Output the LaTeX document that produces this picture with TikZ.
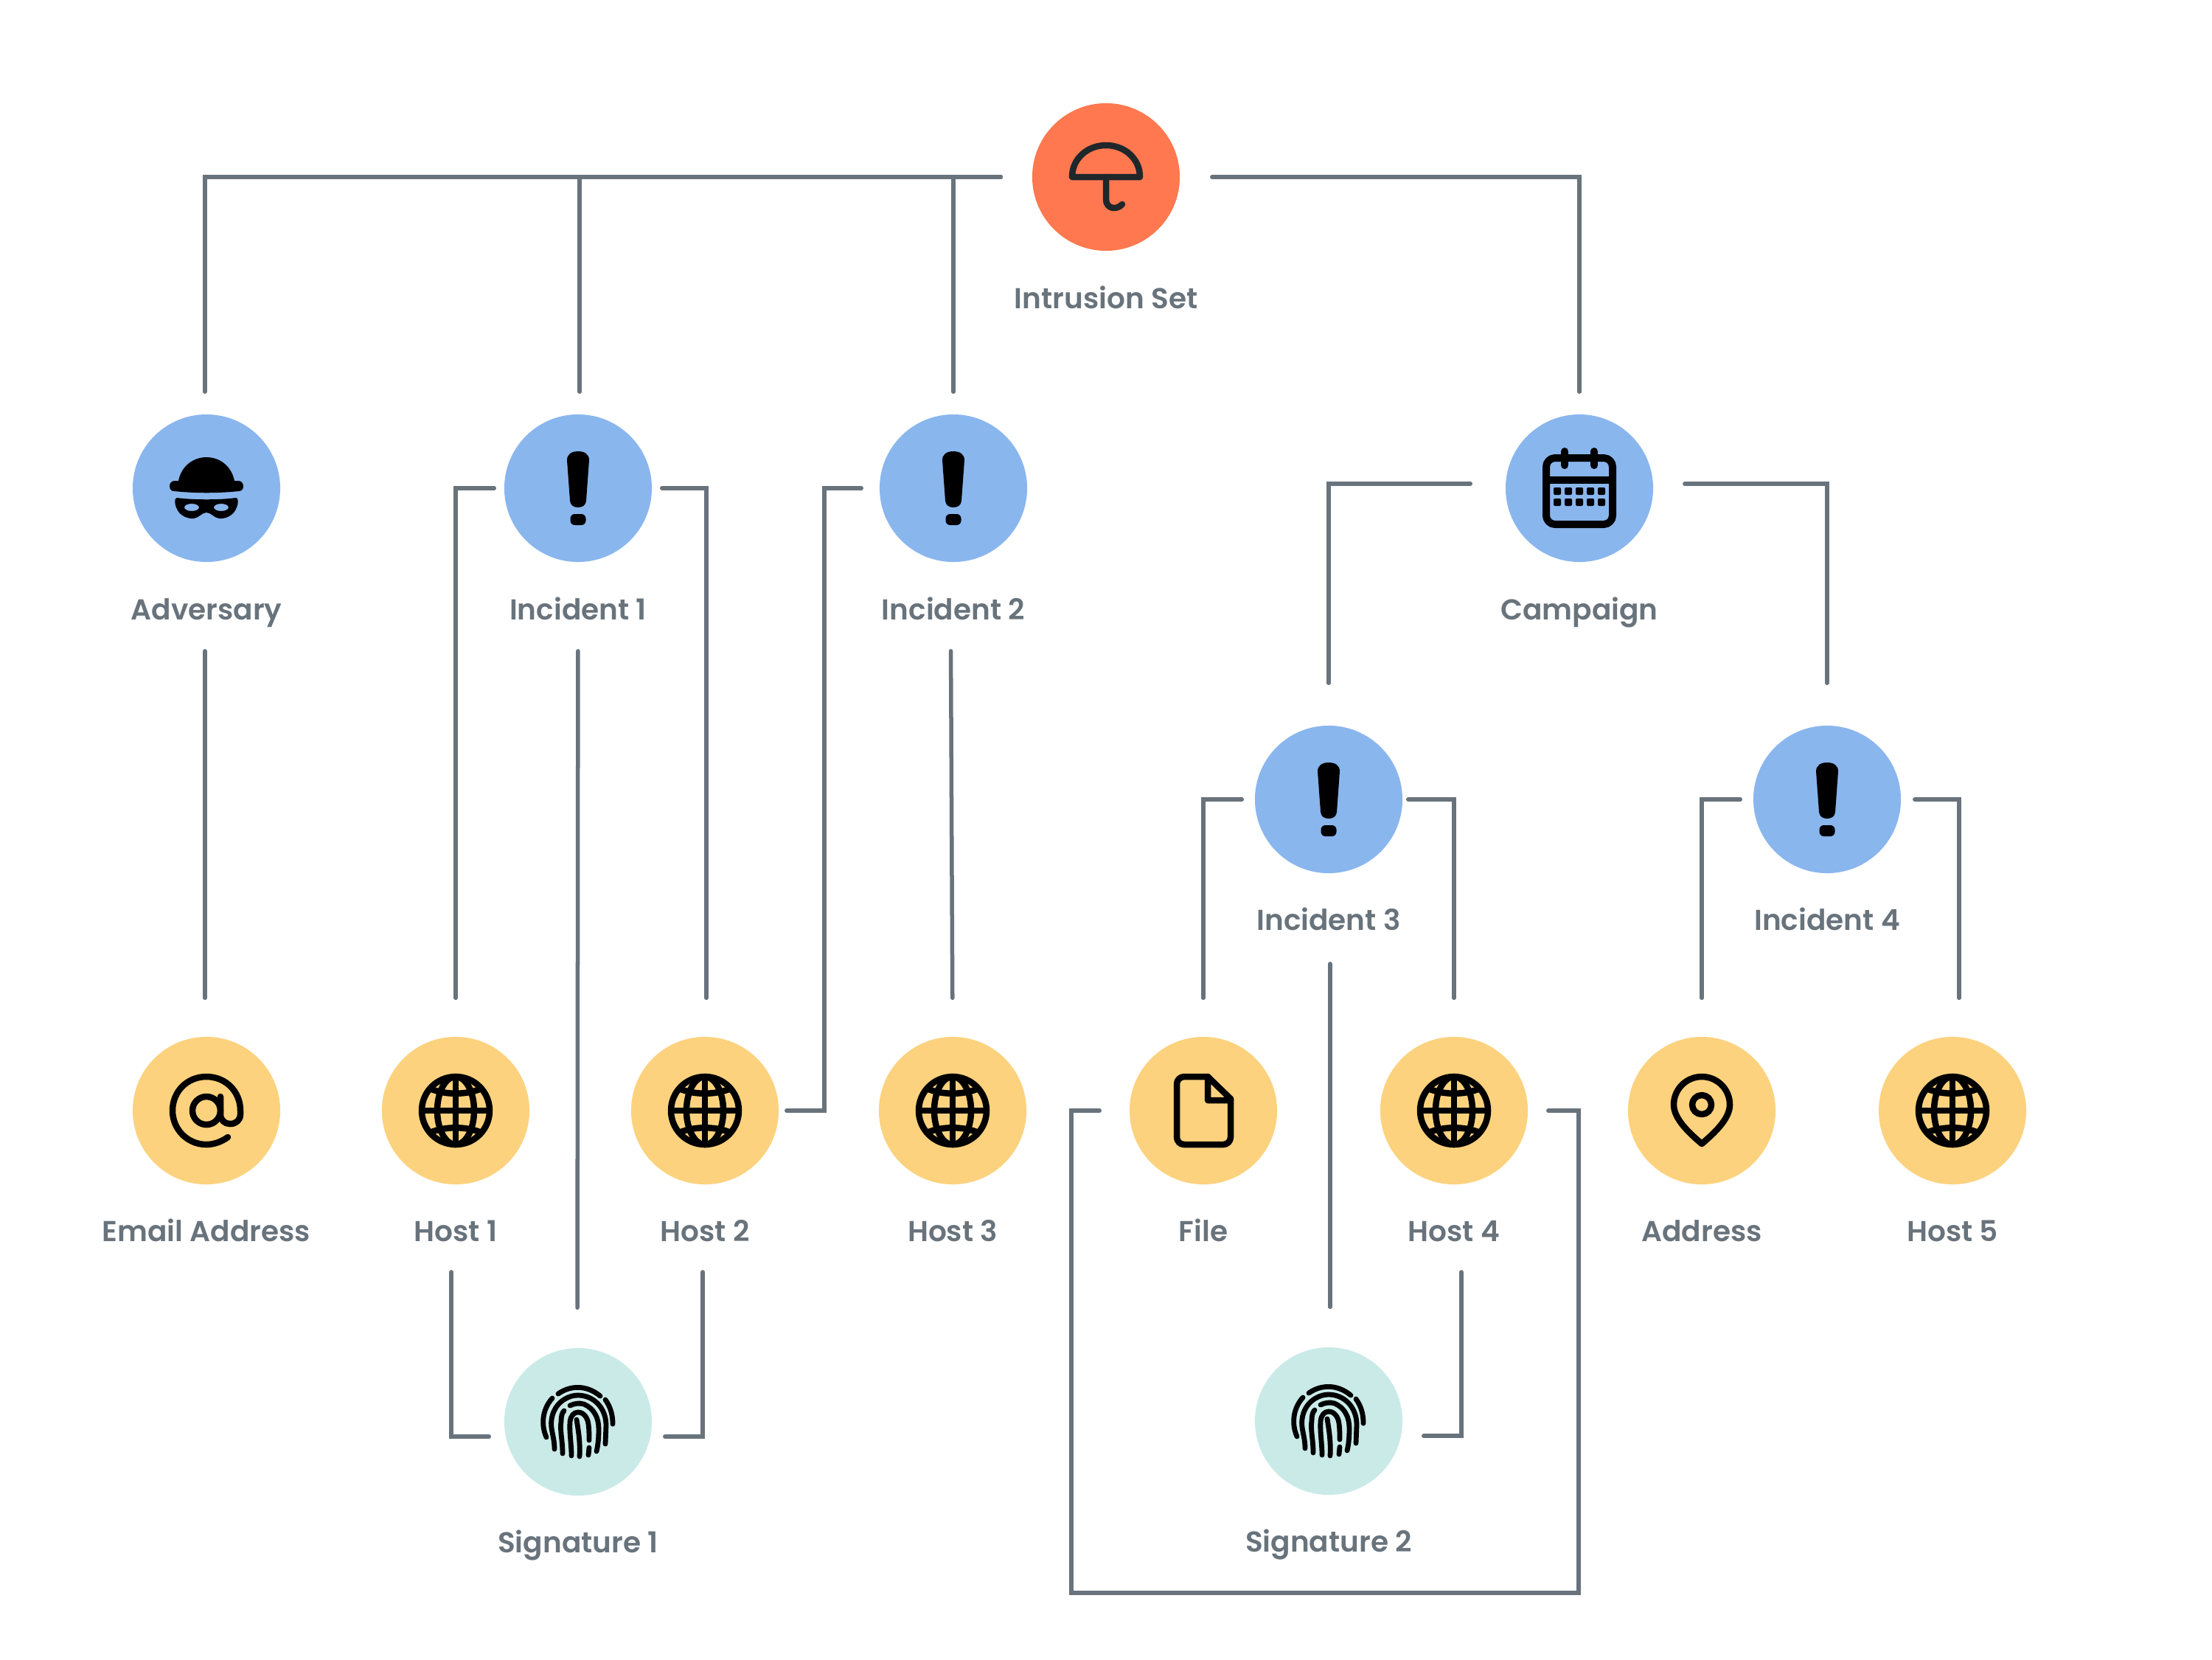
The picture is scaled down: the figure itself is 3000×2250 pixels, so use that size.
\documentclass[tikz,border=0pt]{standalone}
\usepackage{fontspec}
\setmainfont{Poppins SemiBold}
\definecolor{linegrey}{HTML}{68737C}
\definecolor{threatorange}{HTML}{FF784F}
\definecolor{entityblue}{HTML}{8AB6EE}
\definecolor{observableyellow}{HTML}{FCD27E}
\definecolor{signatureteal}{HTML}{CAEAE8}
\definecolor{umbrellaink}{HTML}{1F272B}

\begin{document}
\begin{tikzpicture}[x=.01cm,y=-.01cm]
			\tikzstyle{disc} = [circle, inner sep = 0pt, minimum size = 2cm]
			\tikzstyle{threat} = [disc, fill = threatorange]
			\tikzstyle{entity} = [disc, fill = entityblue]
			\tikzstyle{observable} = [disc, fill = observableyellow]
			\tikzstyle{signature} = [disc, fill = signatureteal]
			\tikzstyle{caption} = [anchor = base, inner sep = 0pt, text = linegrey, font = \fontsize{11.1}{13}\selectfont]
			\tikzstyle{line}=[-,draw=linegrey,line cap=round,line width=.055cm]
			\tikzstyle{ink}=[draw=black,line width=.085cm,line cap=round,line join=round]
			\tikzset{
				pics/umbrella/.style={code={
					\draw[ink,draw=umbrellaink] (-46,0) -- (46,0) (-46,0) .. controls (-46,-25) and (-25,-43) .. (0,-43) .. controls (25,-43) and (46,-25) .. (46,0);
					\draw[ink,draw=umbrellaink] (0,0) -- (0,30) .. controls (0,44) and (15,45) .. (22,37);
				}},
				pics/mask/.style={code={
					\fill (-38,-10) .. controls (-34,-30) and (-18,-42) .. (0,-42) .. controls (18,-42) and (34,-30) .. (38,-10) -- (44,-10) .. controls (52,-9) and (52,4) .. (44,4) .. controls (15,7) and (-15,7) .. (-44,4) .. controls (-52,4) and (-52,-9) .. (-44,-10) -- cycle;
					\fill[even odd rule] (-40,13) .. controls (-20,16) and (20,16) .. (40,13) .. controls (44,13) and (43,22) .. (41,26) .. controls (37,38) and (24,42) .. (17,41) .. controls (10,40) and (6,33) .. (0,33) .. controls (-6,33) and (-10,40) .. (-17,41) .. controls (-24,42) and (-37,38) .. (-41,26) .. controls (-43,22) and (-44,13) .. (-40,13) -- cycle
						(-20,26) ellipse [x radius=10, y radius=5] (20,26) ellipse [x radius=10, y radius=5];
				}},
				pics/bang/.style={code={
					\fill (-15,-38) .. controls (-15,-46) and (-9,-50) .. (0,-50) .. controls (9,-50) and (15,-46) .. (15,-38) -- (11,17) .. controls (10.5,23) and (6,26) .. (0,26) .. controls (-6,26) and (-10.5,23) .. (-11,17) -- cycle;
					\fill[rounded corners=.06cm] (-10.5,35) rectangle (10.5,50);
				}},
				pics/calendar/.style={code={
					\draw[ink,line width=.1cm,rounded corners=.12cm] (-45,-41) rectangle (45,49);
					\draw[ink,line width=.1cm,line cap=butt] (-45,-11) -- (45,-11);
					\draw[ink,line width=.1cm] (-20,-50) -- (-20,-31) (20,-50) -- (20,-31);
					\foreach \dotx in {-30,-15,0,15,30}
						\foreach \doty in {4,19}
							\fill[rounded corners=.02cm] (\dotx-5,\doty-5) rectangle (\dotx+5,\doty+5);
				}},
				pics/atsign/.style={code={
					\draw[ink] (29,36) .. controls (21,42) and (10,46) .. (0,46) .. controls (-26,46) and (-46,25) .. (-46,0) .. controls (-46,-26) and (-26,-46) .. (0,-46) .. controls (26,-46) and (46,-26) .. (46,0) -- (46,5) .. controls (46,13) and (40,18) .. (32,18) .. controls (25,18) and (19,13) .. (19,5) -- (19,-19);
					\draw[ink] (0,0) circle [radius=19];
				}},
				pics/globe/.style={code={
					\draw[ink,line cap=butt] (0,0) circle [radius=46];
					\draw[ink,line cap=butt] (-46,0) -- (46,0) (0,-46) -- (0,46);
					\draw[ink,line cap=butt] (0,0) ellipse [x radius=25, y radius=46];
					\draw[ink,line cap=butt] (-35,-30) .. controls (-15,-21) and (15,-21) .. (35,-30) (-35,30) .. controls (-15,21) and (15,21) .. (35,30);
				}},
				pics/filepage/.style={code={
					\draw[ink,rounded corners=.1cm] (6,-46) -- (-36,-46) -- (-36,46) -- (37,46) -- (37,-16);
					\draw[ink] (37,-16) -- (6,-46) -- (6,-14) -- (37,-14);
				}},
				pics/pin/.style={code={
					\draw[ink] (0,45) .. controls (-15,32) and (-38,12) .. (-38,-8) .. controls (-38,-29) and (-21,-46) .. (0,-46) .. controls (21,-46) and (38,-29) .. (38,-8) .. controls (38,12) and (15,32) .. (0,45) -- cycle;
					\draw[ink] (0,-8) circle [radius=13];
				}},
				pics/fingerprint/.style={code={
					\draw[ink,line width=.068cm] (-27,-38) .. controls (-10,-50) and (12,-50) .. (30,-35);
					\draw[ink,line width=.068cm] (37,-30) .. controls (44,-20) and (47,-10) .. (47,3);
					\draw[ink,line width=.068cm] (-35,-32) .. controls (-46,-20) and (-52,0) .. (-43,21);
					\draw[ink,line width=.068cm] (-32,37) .. controls (-32,20) and (-38,10) .. (-36,-3) .. controls (-33,-25) and (-15,-36) .. (0,-36) .. controls (20,-36) and (38,-20) .. (38,5) -- (37,30);
					\draw[ink,line width=.068cm] (-21,43) .. controls (-21,25) and (-25,10) .. (-23,0) .. controls (-23,-7) and (-22,-12) .. (-19,-15);
					\draw[ink,line width=.068cm] (-11,-22) .. controls (-5,-25) and (2,-26) .. (8,-24) .. controls (22,-18) and (28,-5) .. (28,10) .. controls (28,22) and (27,32) .. (25,40);
					\draw[ink,line width=.068cm] (-9,46) .. controls (-9,30) and (-12,15) .. (-11,0) .. controls (-10,-8) and (-6,-13) .. (0,-13) .. controls (8,-13) and (13,-5) .. (14,3) .. controls (15,10) and (15,18) .. (15,25);
					\draw[ink,line width=.068cm] (2,47) .. controls (3,30) and (1,15) .. (-2,-3);
					\draw[ink,line width=.068cm] (14,45) -- (15,35);
				}}
			}
			\useasboundingbox (0,0) rectangle (3000,2250);
			% top row
			\node[threat] (intrusion) at (1500,240) {};
			\node[caption] (intrusion label) at (1500,418) {Intrusion Set};
			\pic at (intrusion) {umbrella};
			% second row
			\node[entity] (adversary) at (280,662) {};
			\node[caption] (adversary label) at (280,840) {Adversary};
			\pic at (adversary) {mask};
			\node[entity] (incident1) at (784,662) {};
			\node[caption] (incident1 label) at (784,840) {Incident 1};
			\pic at (incident1) {bang};
			\node[entity] (incident2) at (1293,662) {};
			\node[caption] (incident2 label) at (1293,840) {Incident 2};
			\pic at (incident2) {bang};
			\node[entity] (campaign) at (2142,662) {};
			\node[caption] (campaign label) at (2142,840) {Campaign};
			\pic at (campaign) {calendar};
			% third row
			\node[entity] (incident3) at (1802,1084) {};
			\node[caption] (incident3 label) at (1802,1261) {Incident 3};
			\pic at (incident3) {bang};
			\node[entity] (incident4) at (2478,1084) {};
			\node[caption] (incident4 label) at (2478,1261) {Incident 4};
			\pic at (incident4) {bang};
			% fourth row
			\node[observable] (email) at (280,1506) {};
			\node[caption] (email label) at (280,1683) {Email Address};
			\pic at (email) {atsign};
			\node[observable] (host1) at (618,1506) {};
			\node[caption] (host1 label) at (618,1683) {Host 1};
			\pic at (host1) {globe};
			\node[observable] (host2) at (956,1506) {};
			\node[caption] (host2 label) at (956,1683) {Host 2};
			\pic at (host2) {globe};
			\node[observable] (host3) at (1292,1506) {};
			\node[caption] (host3 label) at (1292,1683) {Host 3};
			\pic at (host3) {globe};
			\node[observable] (file) at (1632,1506) {};
			\node[caption] (file label) at (1632,1683) {File};
			\pic at (file) {filepage};
			\node[observable] (host4) at (1972,1506) {};
			\node[caption] (host4 label) at (1972,1683) {Host 4};
			\pic at (host4) {globe};
			\node[observable] (address) at (2308,1506) {};
			\node[caption] (address label) at (2308,1683) {Address};
			\pic at (address) {pin};
			\node[observable] (host5) at (2648,1506) {};
			\node[caption] (host5 label) at (2648,1683) {Host 5};
			\pic at (host5) {globe};
			% bottom row
			\node[signature] (signature1) at (784,1928) {};
			\node[caption] (signature1 label) at (784,2105) {Signature 1};
			\pic at (signature1) {fingerprint};
			\node[signature] (signature2) at (1802,1927) {};
			\node[caption] (signature2 label) at (1802,2104) {Signature 2};
			\pic at (signature2) {fingerprint};
			\coordinate (loop left) at (1453,2160);
			\coordinate (loop right) at (2141,2160);
			% connectors
			\draw (intrusion.west) -| ([xshift=-.02cm]adversary.north) [line,shorten <=.42cm,shorten >=.3cm];
			\draw (intrusion.west) -| ([xshift=.02cm]incident1.north) [line,shorten <=.42cm,shorten >=.3cm];
			\draw (intrusion.west) -| (incident2.north) [line,shorten <=.42cm,shorten >=.3cm];
			\draw (intrusion.east) -| (campaign.north) [line,shorten <=.43cm,shorten >=.3cm];
			\draw ([yshift=.06cm]campaign.west) -| (incident3.north) [line,shorten <=.47cm,shorten >=.57cm];
			\draw ([yshift=.06cm]campaign.east) -| (incident4.north) [line,shorten <=.42cm,shorten >=.57cm];
			\draw ([xshift=-.02cm]adversary.south) to ([xshift=-.02cm]email.north) [line,shorten <=1.2cm,shorten >=.52cm];
			\draw (incident1.west) -| (host1.north) [line,shorten <=.13cm,shorten >=.52cm];
			\draw (incident1.east) -| ([xshift=.02cm]host2.north) [line,shorten <=.13cm,shorten >=.52cm];
			\draw (incident1.south) to ([xshift=-.01cm]signature1.north) [line,shorten <=1.2cm,shorten >=.54cm];
			\draw (host2.east) -- ++(61,0) |- (incident2.west) [line,shorten <=.1cm,shorten >=.24cm];
			\draw ([xshift=-.04cm]incident2.south) to (host3.north) [line,shorten <=1.2cm,shorten >=.52cm];
			\draw (incident3.west) -| (file.north) [line,shorten <=.17cm,shorten >=.52cm];
			\draw (incident3.east) -| (host4.north) [line,shorten <=.07cm,shorten >=.52cm];
			\draw ([xshift=.02cm]incident3.south) to ([xshift=.02cm]signature2.north) [line,shorten <=1.22cm,shorten >=.54cm];
			\draw (incident4.west) -| (address.north) [line,shorten <=.17cm,shorten >=.52cm];
			\draw (incident4.east) -| ([xshift=.09cm]host5.north) [line,shorten <=.18cm,shorten >=.52cm];
			\draw ([xshift=-.06cm]host1.south) |- ([yshift=-.2cm]signature1.west) [line,shorten <=1.18cm,shorten >=.2cm];
			\draw ([xshift=-.03cm]host2.south) |- ([yshift=-.2cm]signature1.east) [line,shorten <=1.18cm,shorten >=.17cm];
			\draw ([xshift=.1cm]host4.south) |- ([yshift=-.2cm]signature2.east) [line,shorten <=1.18cm,shorten >=.28cm];
			\draw (file.west) -| (loop left) -- (loop right) |- (host4.east) [line,shorten <=.4cm,shorten >=.27cm];
		\end{tikzpicture}
\end{document}
